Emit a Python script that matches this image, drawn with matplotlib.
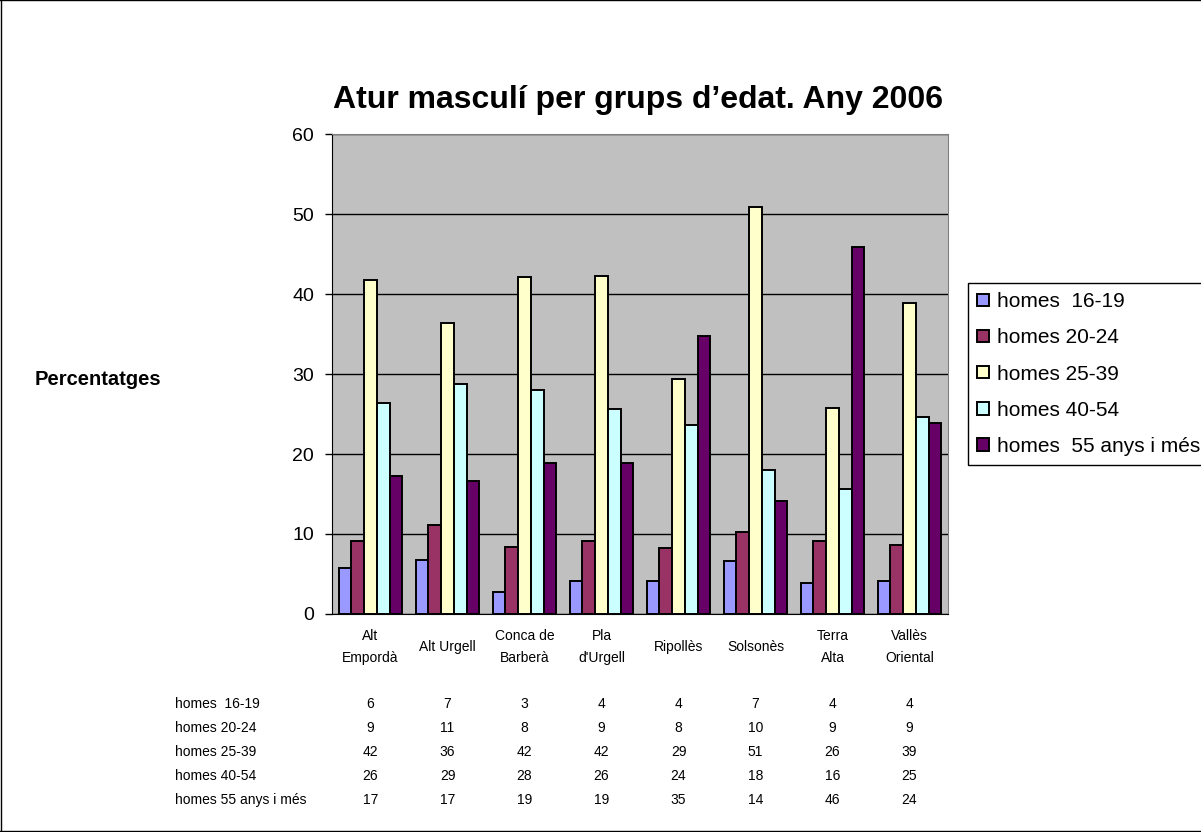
import numpy as np
import matplotlib.pyplot as plt
import matplotlib.transforms as mtransforms
from matplotlib.lines import Line2D

plt.rcParams['font.family'] = ['Liberation Sans', 'DejaVu Sans']

comarques = ['Alt\nEmpordà', 'Alt Urgell', 'Conca de\nBarberà', 'Pla\nd\'Urgell',
             'Ripollès', 'Solsonès', 'Terra\nAlta', 'Vallès\nOriental']
series = ['homes  16-19', 'homes 20-24', 'homes 25-39', 'homes 40-54', 'homes  55 anys i més']
table_labels = ['homes  16-19', 'homes 20-24', 'homes 25-39', 'homes 40-54', 'homes 55 anys i més']

h16_19 = [5.7, 6.8, 2.8, 4.1, 4.1, 6.6, 3.9, 4.1]
h20_24 = [9.1, 11.1, 8.4, 9.1, 8.2, 10.2, 9.1, 8.6]
h25_39 = [41.8, 36.4, 42.1, 42.3, 29.4, 50.9, 25.7, 38.9]
h40_54 = [26.4, 28.8, 28.0, 25.6, 23.6, 18.0, 15.6, 24.6]
h55 = [17.2, 16.6, 18.9, 18.9, 34.8, 14.1, 45.9, 23.9]

colors = ['#9999FF', '#993366', '#FFFFCC', '#CCFFFF', '#660066']

data = [h16_19, h20_24, h25_39, h40_54, h55]

fig = plt.figure(figsize=(12.01, 8.32), dpi=100)
ax = fig.add_axes([332/1201, 1-614/832, (948-332)/1201, (614-134)/832])
ax.set_facecolor('#C0C0C0')

x = np.arange(len(comarques))
w = 0.166
for i, vals in enumerate(data):
    ax.bar(x + (i - 2) * w, vals, w, color=colors[i], edgecolor='black',
           linewidth=1.4, label=series[i], zorder=3)

ax.set_xlim(-0.5, len(comarques) - 0.5)
ax.set_ylim(0, 60)
ax.set_yticks(range(0, 61, 10))
ax.yaxis.grid(True, color='black', linewidth=1, zorder=1)
ax.set_axisbelow(True)
ax.tick_params(axis='y', direction='out', length=5, width=1, labelsize=14, pad=8)
ax.set_xticks(x)
ax.set_xticklabels(comarques, fontsize=10, linespacing=1.75)
ax.tick_params(axis='x', length=0, pad=24)
for lab in ax.get_xticklabels():
    lab.set_verticalalignment('center')
for s in ['top', 'right']:
    ax.spines[s].set_color('#808080')
ax.spines['left'].set_color('black')
ax.spines['bottom'].set_color('black')

fig.text(638/1201, 1-100/832, 'Atur masculí per grups d’edat. Any 2006',
         ha='center', va='center', fontsize=23, fontweight='bold')
fig.text(35/1201, 1-380/832, 'Percentatges', ha='left', va='center',
         fontsize=14.5, fontweight='bold')

# data table under the chart
trans = mtransforms.blended_transform_factory(ax.transData, fig.transFigure)
for r, vals in enumerate(data):
    yy = 1 - (704 + 24 * r) / 832
    fig.text(175/1201, yy, table_labels[r], ha='left', va='center', fontsize=10)
    for c, v in enumerate(vals):
        ax.text(c, yy, str(int(v + 0.5)), transform=trans, ha='center',
                va='center', fontsize=10, clip_on=False)

fig.legend(loc='upper left', bbox_to_anchor=(967.7/1201, 1-283/832),
           borderaxespad=0, fontsize=15, frameon=True, fancybox=False,
           edgecolor='black', framealpha=1, handlelength=0.55, handleheight=0.55,
           handletextpad=0.4, labelspacing=0.82, borderpad=0.45)
fig.legends[0].get_frame().set_linewidth(1)

# outer chart border
for xs, ys in [([0.0005, 0.0005], [0, 1]), ([0, 1], [0.9995, 0.9995]), ([0, 1], [0.0015, 0.0015])]:
    fig.add_artist(Line2D(xs, ys, color='black', linewidth=1, transform=fig.transFigure))

fig.savefig('out.png', dpi=100)
